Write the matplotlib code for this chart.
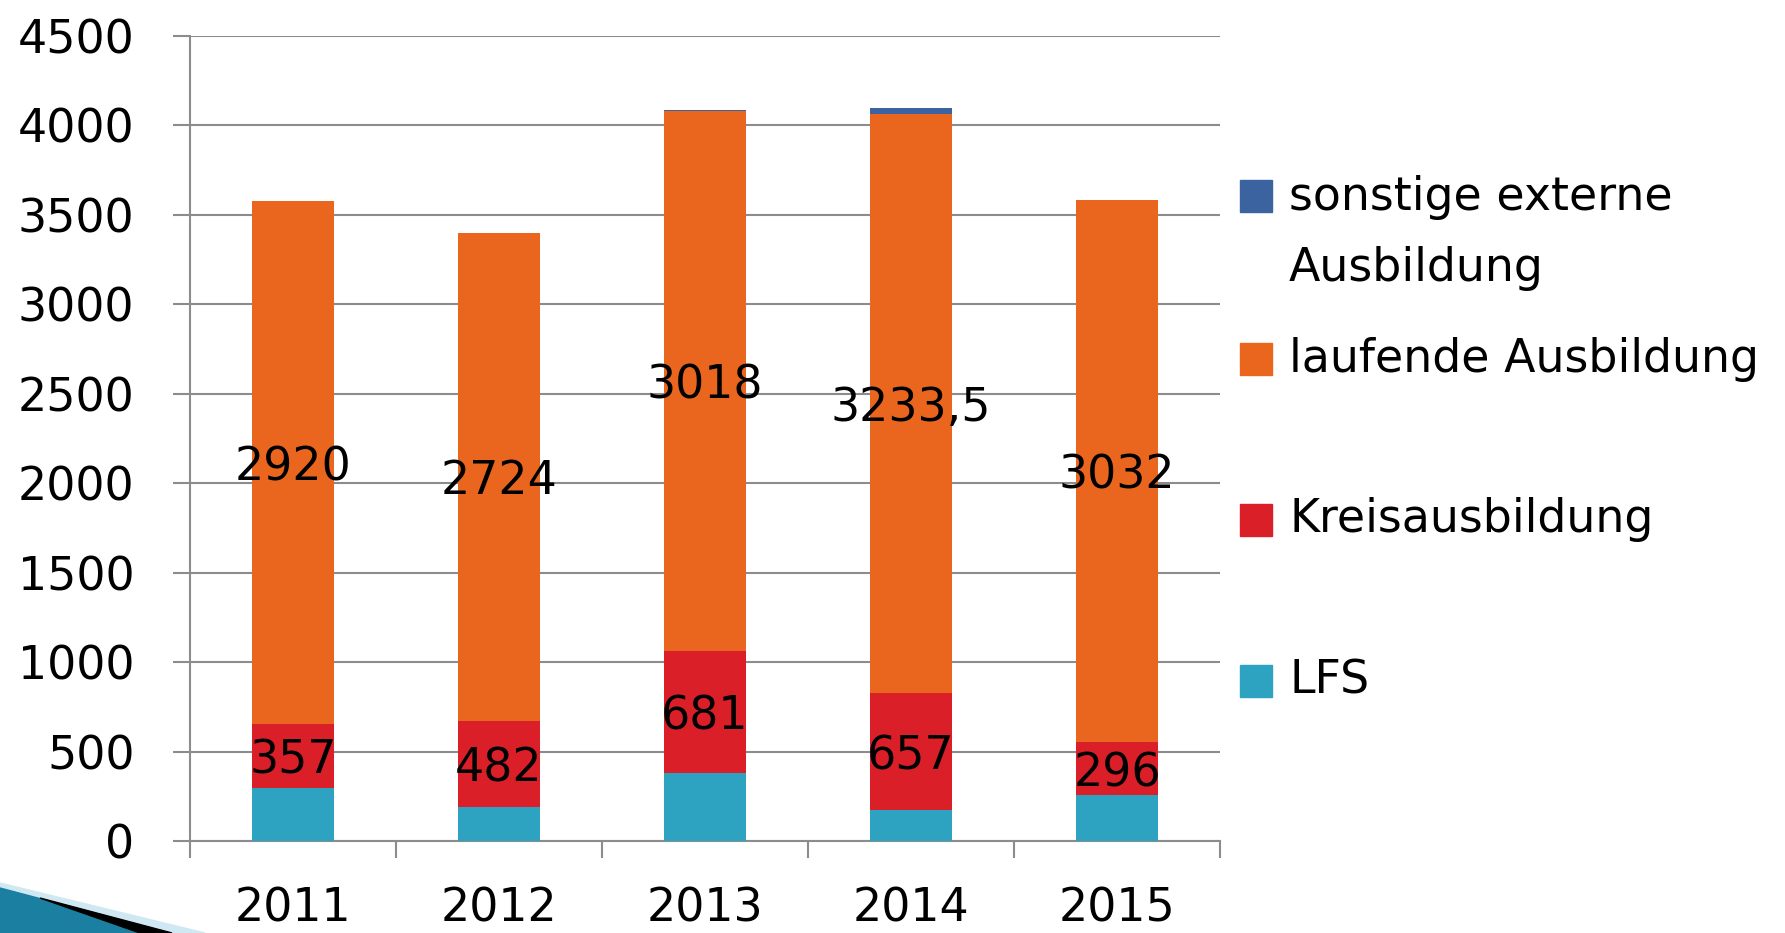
import numpy as np
import matplotlib.pyplot as plt
from matplotlib.patches import Polygon, Rectangle

years = ["2011", "2012", "2013", "2014", "2015"]

# stacked segments, bottom to top
lfs = [298, 191, 379, 171, 257]
kreis = [357, 482, 681, 657, 296]
laufend = [2920, 2724, 3018, 3233.5, 3032]
sonstige = [0, 0, 7, 35, 0]

names = ["LFS", "Kreisausbildung", "laufende Ausbildung", "sonstige externe\nAusbildung"]
colors = ["#2da3c1", "#da1f28", "#ea661e", "#3a63a0"]

yticks = list(range(0, 4501, 500))
grey = "#8c8c8c"


def de(v):
    # german decimal comma
    return f"{v:g}".replace(".", ",")


def stacked_plot():
    fig = plt.figure(figsize=(17.85, 9.33), dpi=100)
    ax = fig.add_axes([190 / 1785, 1 - 841 / 933, 1030 / 1785, 805 / 933])

    x = np.arange(len(years))
    width = 0.4
    bottom = np.zeros(len(years))
    containers = []
    for vals, col in zip([lfs, kreis, laufend, sonstige], colors):
        bars = ax.bar(x, vals, width=width, bottom=bottom, color=col,
                      edgecolor="none", zorder=3)
        containers.append(bars)
        bottom += np.array(vals)

    # value labels only for Kreis + laufend
    for bars, vals in [(containers[1], kreis), (containers[2], laufend)]:
        txts = ax.bar_label(bars, labels=[de(v) for v in vals], label_type="center",
                            fontsize=33, color="black", zorder=5)
        for t in txts:
            t.set_va("center_baseline")

    ax.set_xlim(-0.5, len(years) - 0.5)
    ax.set_ylim(0, 4500)
    ax.set_yticks(yticks)
    ax.set_xticks(x, years)
    ax.set_xticks(np.arange(-0.5, len(years), 1), minor=True)
    ax.grid(axis="y", color=grey, linewidth=1.5, zorder=0)
    ax.set_axisbelow(True)

    for s in ["top", "right"]:
        ax.spines[s].set_visible(False)
    for s in ["left", "bottom"]:
        ax.spines[s].set_color(grey)
        ax.spines[s].set_linewidth(1.5)

    ax.tick_params(axis="y", labelsize=33, length=12, width=1.5, color=grey, pad=28)
    ax.tick_params(axis="x", which="major", labelsize=33, length=0, pad=33)
    ax.tick_params(axis="x", which="minor", length=12, width=1.5, color=grey)

    # legend drawn by hand, top entry first
    ys = [681, 520, 359, 196]
    for name, col, yc in zip(names, colors, ys):
        fig.add_artist(Rectangle((1240 / 1785, 1 - (yc + 16) / 933), 32 / 1785, 32 / 933,
                                 transform=fig.transFigure, color=col))
        if "\n" in name:
            fig.text(1289 / 1785, 1 - (yc - 21) / 933, name, fontsize=33,
                     va="top", ha="left", linespacing=1.75)
        else:
            fig.text(1289 / 1785, 1 - yc / 933, name, fontsize=33,
                     va="center", ha="left")

    # slide decoration bottom left
    def fp(pts):
        return [(px / 1785, 1 - py / 933) for px, py in pts]
    fig.add_artist(Polygon(fp([(0, 883), (205, 933), (0, 933)]),
                           transform=fig.transFigure, color="#cfe8f2"))
    fig.add_artist(Polygon(fp([(0, 888), (170, 933), (0, 933)]),
                           transform=fig.transFigure, color="#1a7fa0"))
    fig.add_artist(Polygon(fp([(40, 898), (172, 933), (140, 933)]),
                           transform=fig.transFigure, color="black"))

    fig.savefig("out.png", dpi=100)


if __name__ == '__main__':
    stacked_plot()
